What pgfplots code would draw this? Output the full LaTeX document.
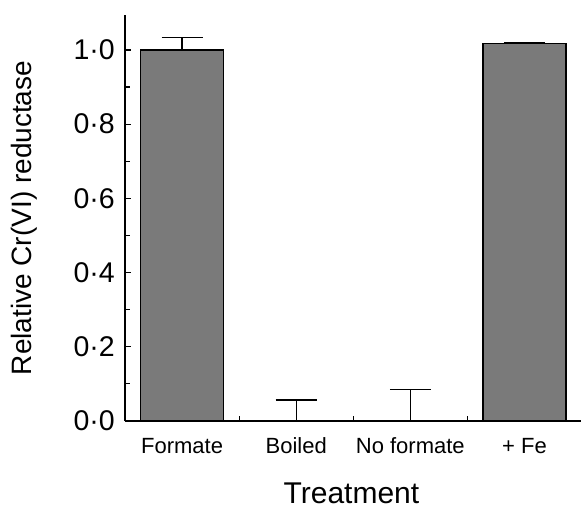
\documentclass[border=0pt]{standalone}
\usepackage{pgfplots}
\pgfplotsset{compat=1.18}
\usepackage{fontspec}
\setmainfont{Liberation Sans}
\begin{document}
\begin{tikzpicture}
\useasboundingbox (-125bp,-87bp) rectangle (456bp,421bp);
\begin{axis}[
  at={(0,0)}, anchor=south west,
  scale only axis, width=456.5bp, height=406bp,
  xmin=0.5, xmax=4.5, ymin=0, ymax=1.0943,
  axis lines=left,
  axis line style={-, line width=1.6bp},
  xtick={1,2,3,4},
  xticklabels={Formate, Boiled, No formate, + Fe},
  major x tick style={draw=none},
  minor xtick={1.5,2.5,3.5},
  minor x tick style={line width=1.2bp},
  minor tick length=5bp,
  ytick={0,0.2,0.4,0.6,0.8,1.0},
  yticklabels={0·0,0·2,0·4,0·6,0·8,1·0},
  minor ytick={0.1,0.3,0.5,0.7,0.9},
  major tick length=6bp,
  tick style={line width=1.2bp, black},
  tick align=inside,
  xticklabel style={font=\fontsize{22bp}{22bp}\selectfont, anchor=base, inner sep=0pt, yshift=-32bp},
  yticklabel style={font=\fontsize{28.5bp}{28.5bp}\selectfont, anchor=east, inner sep=0pt, xshift=-10bp},
  xlabel={Treatment},
  ylabel={Relative Cr(VI) reductase},
  xlabel style={font=\fontsize{30bp}{30bp}\selectfont, at={(axis description cs:0.496,0)}, anchor=base, inner sep=0pt, yshift=-82bp},
  ylabel style={font=\fontsize{28bp}{28bp}\selectfont, at={(axis description cs:-0.2215,0.5)}, anchor=center, inner sep=0pt},
  clip=false,
]
\addplot[ybar, bar width=83bp, bar shift=0pt, fill=black!52, draw=black, line width=1.2bp,
  error bars/.cd, y dir=plus, y explicit,
  error mark=|,
  error bar style={line width=1.3bp, black},
  error mark options={line width=1.3bp, mark size=20.5bp, black}]
  coordinates {
  (1,1.000) +- (0,0.033)
  (2,0.000) +- (0,0.057)
  (3,0.000) +- (0,0.084)
  (4,1.018) +- (0,0.003)
};
\end{axis}
\end{tikzpicture}
\end{document}
